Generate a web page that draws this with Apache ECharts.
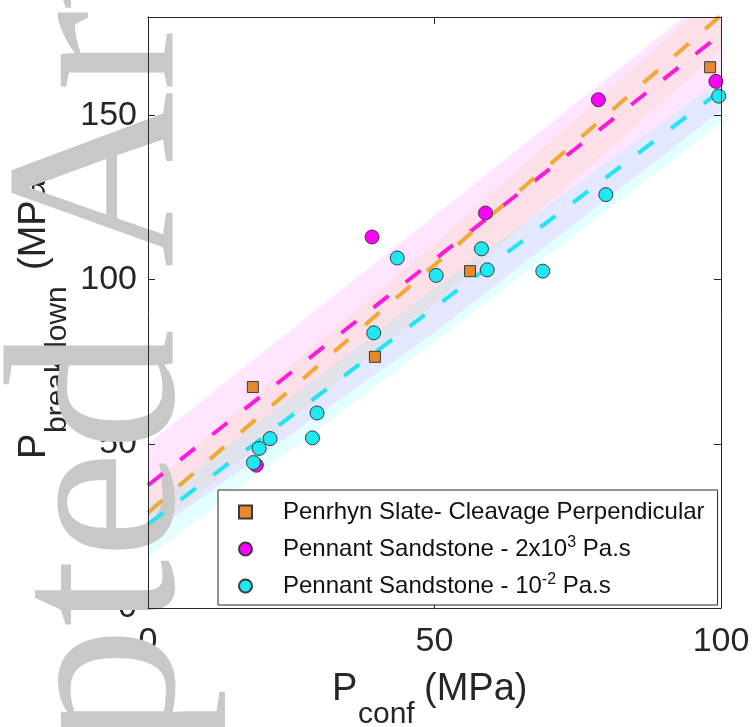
<!DOCTYPE html>
<html>
<head>
<meta charset="utf-8">
<script src="https://cdn.jsdelivr.net/npm/echarts@6/dist/echarts.min.js"></script>
<style>
  html, body { margin: 0; padding: 0; background: #ffffff; }
  #chart { width: 755px; height: 727px; }
</style>
</head>
<body>
<div id="chart"></div>
<script>
// Breakdown pressure versus confining pressure for three rock / fluid combinations.

const xTicks = [0, 50, 100];
const yTicks = [0, 50, 100, 150];

const seriesNames = [
  'Penrhyn Slate- Cleavage Perpendicular',
  'Pennant Sandstone - 2x10^3 Pa.s',
  'Pennant Sandstone - 10^-2 Pa.s'
];

// measured points (P_conf, P_breakdown) in MPa
const slateX = [18.3, 39.6, 56.2, 98.1];
const slateY = [67.3, 76.5, 102.6, 164.7];

const viscousX = [18.9, 39.1, 58.9, 78.6, 99.1];
const viscousY = [43.5, 113.0, 120.3, 154.8, 160.4];

const waterX = [18.4, 19.4, 21.3, 28.7, 29.5, 39.4, 43.5, 50.3, 58.2, 59.2, 68.9, 79.9, 99.6];
const waterY = [44.3, 48.6, 51.6, 51.8, 59.4, 83.8, 106.6, 101.3, 109.4, 103.0, 102.6, 125.9, 155.9];

// linear fits evaluated at fitX
const fitX = [0, 50, 100];
const slateFit = [29.0, 104.5, 180.5];
const viscousFit = [37.4, 106.1, 174.8];
const waterFit = [25.5, 91.5, 157.6];

// prediction bands for each fit (lower / upper), evaluated at fitX
const slateLo = [22.5, 92.5, 170.0];
const slateHi = [37.0, 111.0, 188.0];
const viscousLo = [22.0, 84.0, 151.5];
const viscousHi = [50.0, 119.5, 189.0];
const waterLo = [15.5, 81.0, 147.6];
const waterHi = [31.0, 97.5, 161.0];

const FONT = '"Liberation Sans", Arial, Helvetica, sans-serif';
const INK = '#262626';

const colors = {
  slate: '#e5892e',
  viscous: '#ff00ff',
  water: '#1ee8f2',
  slateLine: '#eeaa32',
  viscousLine: '#ff1ad9',
  waterLine: '#22e4f8'
};

function pairs(xs, ys) { return xs.map((x, i) => [x, ys[i]]); }

function bandSeries(lo, hi, fill) {
  return {
    type: 'custom',
    silent: true,
    z: 1,
    data: [0],
    renderItem(params, api) {
      const pts = [];
      for (let i = 0; i < fitX.length; i++) pts.push(api.coord([fitX[i], hi[i]]));
      for (let i = fitX.length - 1; i >= 0; i--) pts.push(api.coord([fitX[i], lo[i]]));
      const cs = params.coordSys;
      return {
        type: 'group',
        clipPath: { type: 'rect', shape: { x: cs.x, y: cs.y, width: cs.width, height: cs.height } },
        children: [{ type: 'polygon', shape: { points: pts }, style: { fill: fill } }]
      };
    }
  };
}

function fitSeries(ys, color) {
  return {
    type: 'line',
    silent: true,
    z: 3,
    showSymbol: false,
    symbol: 'none',
    data: pairs(fitX, ys),
    lineStyle: { color: color, width: 4, type: [19, 22], cap: 'butt' }
  };
}

function pointSeries(name, xs, ys, symbol, size, color) {
  return {
    type: 'scatter',
    name: name,
    z: 4,
    symbol: symbol,
    symbolSize: size,
    data: pairs(xs, ys),
    itemStyle: { color: color, borderColor: '#3a3a3a', borderWidth: 1, opacity: 1 }
  };
}

// axis titles with subscripts, built from plain text pieces
function titlePiece(text, x, y, size, rotated) {
  return {
    type: 'text', z: 1, silent: true,
    x: x, y: y, rotation: rotated ? Math.PI / 2 : 0,
    style: {
      text: text, fontSize: size, fontFamily: FONT, fill: INK,
      align: 'left', verticalAlign: 'middle', textAlign: 'left', textVerticalAlign: 'middle'
    }
  };
}

const frameLine = { show: true, onZero: false, lineStyle: { color: INK, width: 1 } };
const frameTick = { show: true, inside: true, length: 7, lineStyle: { color: INK, width: 1 } };
const noLabel = { show: false };

function legendText(name) {
  return name.replace(/\^(-?\d+)/g, '{sup|$1}');
}

const option = {
  animation: false,
  backgroundColor: '#ffffff',
  grid: { left: 148, right: 34, top: 17, bottom: 119, containLabel: false, outerBoundsMode: 'none' },
  xAxis: [
    {
      type: 'value', position: 'bottom', min: 0, max: 100, interval: 50, z: 0,
      axisLine: { show: false }, axisTick: { show: false }, splitLine: { show: false },
      axisLabel: {
        margin: 17, fontSize: 34, fontFamily: FONT, color: INK,
        formatter: v => (xTicks.includes(v) ? String(v) : '')
      }
    },
    {
      type: 'value', position: 'top', min: 0, max: 100, interval: 50, z: 5,
      axisLine: frameLine, axisTick: frameTick, axisLabel: noLabel, splitLine: { show: false }
    },
    {
      type: 'value', position: 'bottom', min: 0, max: 100, interval: 50, z: 5,
      axisLine: frameLine, axisTick: frameTick, axisLabel: noLabel, splitLine: { show: false }
    }
  ],
  yAxis: [
    {
      type: 'value', position: 'left', min: 0, max: 180, interval: 50, z: 0,
      axisLine: { show: false }, axisTick: { show: false }, splitLine: { show: false },
      axisLabel: {
        margin: 11, fontSize: 34, fontFamily: FONT, color: INK,
        formatter: v => (yTicks.includes(v) ? String(v) : '')
      }
    },
    {
      type: 'value', position: 'right', min: 0, max: 180, interval: 50, z: 5,
      axisLine: frameLine, axisTick: frameTick, axisLabel: noLabel, splitLine: { show: false }
    },
    {
      type: 'value', position: 'left', min: 0, max: 180, interval: 50, z: 5,
      axisLine: frameLine, axisTick: frameTick, axisLabel: noLabel, splitLine: { show: false }
    }
  ],
  legend: {
    orient: 'vertical',
    left: 218, top: 490,
    data: seriesNames,
    backgroundColor: '#ffffff',
    borderColor: INK, borderWidth: 1, borderRadius: 0,
    padding: [8, 13, 5, 20],
    itemGap: 9, itemWidth: 13, itemHeight: 13,
    z: 6,
    formatter: legendText,
    textStyle: {
      fontSize: 24, fontFamily: FONT, color: '#111111', lineHeight: 28,
      padding: [0, 0, 0, 26],
      rich: { sup: { fontSize: 16, fontFamily: FONT, color: '#111111', lineHeight: 16, verticalAlign: 'top' } }
    }
  },
  graphic: [
    titlePiece('P', 332, 690, 38, false),
    titlePiece('conf', 358, 715, 30, false),
    titlePiece('(MPa)', 424, 690, 38, false),
    titlePiece('P', 35, 459, 38, true),
    titlePiece('breakdown', 58, 433, 30, true),
    titlePiece('(MPa)', 35, 270, 38, true),
    {
      // journal watermark running up the left margin
      type: 'text', z: 2, silent: true,
      x: 108.6, y: 1250, rotation: Math.PI / 2,
      style: {
        text: 'Accepted Article',
        fontSize: 244, fontFamily: '"Liberation Serif", "Times New Roman", serif',
        fill: '#c8c8c8', align: 'left', verticalAlign: 'middle',
        textAlign: 'left', textVerticalAlign: 'middle'
      }
    }
  ],
  series: [
    bandSeries(viscousLo, viscousHi, 'rgba(255, 0, 255, 0.1)'),
    bandSeries(slateLo, slateHi, 'rgba(237, 177, 32, 0.1)'),
    bandSeries(waterLo, waterHi, 'rgba(0, 255, 255, 0.11)'),
    fitSeries(viscousFit, colors.viscousLine),
    fitSeries(slateFit, colors.slateLine),
    fitSeries(waterFit, colors.waterLine),
    pointSeries(seriesNames[0], slateX, slateY, 'rect', 11, colors.slate),
    pointSeries(seriesNames[1], viscousX, viscousY, 'circle', 14, colors.viscous),
    pointSeries(seriesNames[2], waterX, waterY, 'circle', 14, colors.water)
  ]
};

const chart = echarts.init(document.getElementById('chart'), null, { renderer: 'canvas' });
chart.setOption(option);
</script>
</body>
</html>
